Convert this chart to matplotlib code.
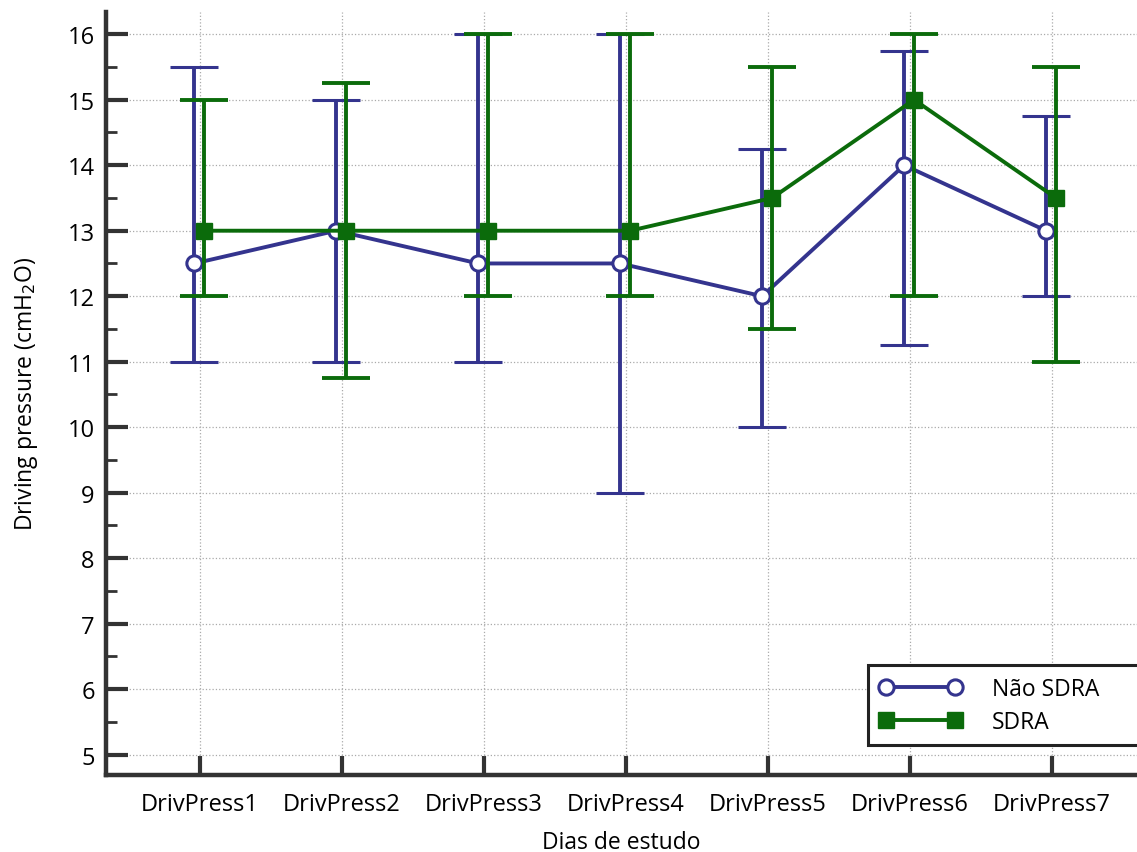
import numpy as np
import matplotlib.pyplot as plt

plt.rcParams['font.family'] = ['Open Sans', 'DejaVu Sans']

days = ['DrivPress1', 'DrivPress2', 'DrivPress3', 'DrivPress4', 'DrivPress5', 'DrivPress6', 'DrivPress7']

nao_med = [12.5, 13, 12.5, 12.5, 12, 14, 13]
nao_low = [11, 11, 11, 9, 10, 11.25, 12]
nao_up = [15.5, 15, 16, 16, 14.25, 15.75, 14.75]

sdra_med = [13, 13, 13, 13, 13.5, 15, 13.5]
sdra_low = [12, 10.75, 12, 12, 11.5, 12, 11]
sdra_up = [15, 15.25, 16, 16, 15.5, 16, 15.5]

BLUE = '#34348e'
GREEN = '#0b6b0b'
SPINE = '#333333'

fig = plt.figure(figsize=(11.37, 8.53), dpi=100)
ax = fig.add_axes([0.0932, 0.0903, 0.9068, 0.8945])

x = np.arange(1, len(days) + 1)
xb = x - 0.04
xg = x + 0.03

nao_med = np.array(nao_med)
sdra_med = np.array(sdra_med)
err_b = [nao_med - np.array(nao_low), np.array(nao_up) - nao_med]
err_g = [sdra_med - np.array(sdra_low), np.array(sdra_up) - sdra_med]

ax.errorbar(xb, nao_med, yerr=err_b, color=BLUE, lw=2.8, capsize=17, capthick=2.8,
            marker='o', ms=11, mfc='white', mec=BLUE, mew=2.2, label='Não SDRA', zorder=3)
ax.errorbar(xg, sdra_med, yerr=err_g, color=GREEN, lw=2.8, capsize=17, capthick=2.8,
            marker='s', ms=11, mfc=GREEN, mec=GREEN, label='SDRA', zorder=4)

ax.set_xlim(0.338, 7.6)
ax.set_ylim(4.69, 16.34)
ax.set_xticks(x)
ax.set_xticklabels(days, fontsize=17)
ax.set_yticks(range(5, 17))
ax.set_yticks(np.arange(5.5, 16, 1), minor=True)
ax.tick_params(axis='y', labelsize=17)

ax.tick_params(which='major', direction='in', length=16, width=3, color=SPINE, pad=8)
ax.tick_params(which='minor', direction='in', length=8, width=2, color=SPINE)
ax.tick_params(axis='x', which='major', length=14, pad=12)

ax.grid(True, which='major', color='#aaaaaa', ls=':', lw=0.9)
ax.set_axisbelow(True)

for s in ['top', 'right']:
    ax.spines[s].set_visible(False)
for s in ['left', 'bottom']:
    ax.spines[s].set_color(SPINE)
    ax.spines[s].set_linewidth(3.2)

ax.set_xlabel('Dias de estudo', fontsize=16.5, labelpad=10)
ax.set_ylabel('Driving pressure (cmH$_2$O)', fontsize=16.5, labelpad=20)

h, l = ax.get_legend_handles_labels()
h = [hh[0] for hh in h]
leg = ax.legend(h, l, loc='lower left', bbox_to_anchor=(0.739, 0.039, 0.28, 0.106),
                mode='expand', numpoints=2,
                handlelength=3.6, fontsize=16.5, fancybox=False, framealpha=1,
                borderpad=0.5, labelspacing=0.4, handletextpad=1.3, borderaxespad=0)
leg.get_frame().set_edgecolor('#222222')
leg.get_frame().set_linewidth(2.2)

fig.savefig('out.png', dpi=100)
